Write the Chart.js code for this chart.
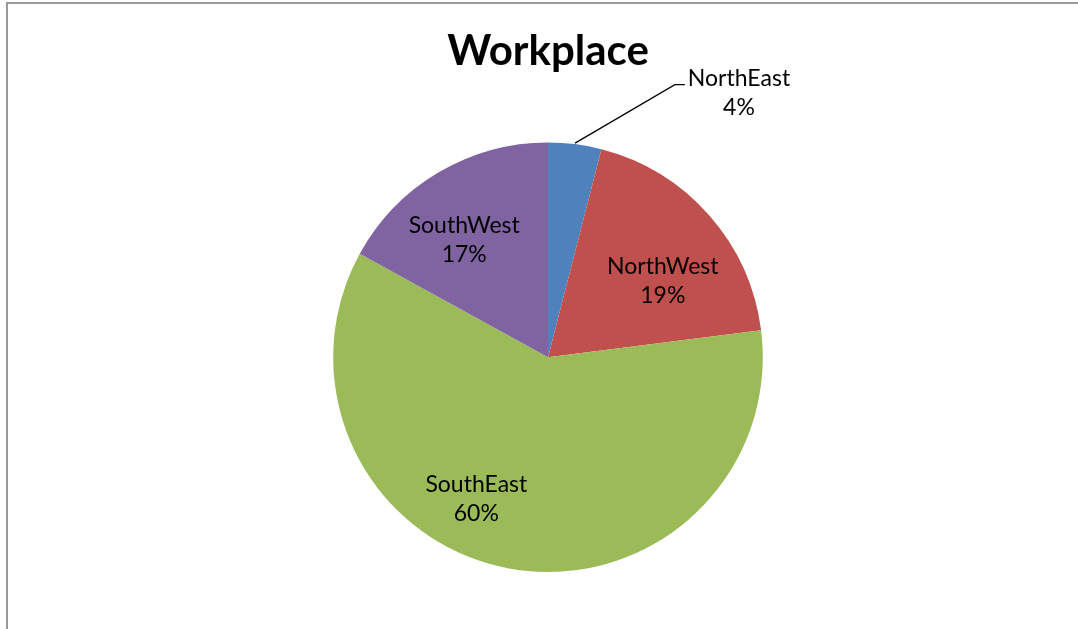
<!DOCTYPE html>
<html>
<head>
<meta charset="utf-8">
<title>Workplace</title>
<script src="https://cdn.jsdelivr.net/npm/chart.js@4.4.1/dist/chart.umd.min.js"></script>
<style>
    body { margin: 0; background: #fff; overflow: hidden; }
    #frame {
        position: absolute; left: 6px; top: 2px;
        width: 1100px; height: 700px;
        border-left: 2px solid #999; border-top: 2px solid #999;
    }
    #pie { position: absolute; left: 0; top: 0; }
</style>
</head>
<body>
<div id="frame"></div>
<canvas id="pie" width="1078" height="629"></canvas>
<script>
const regions = ['NorthEast', 'NorthWest', 'SouthEast', 'SouthWest'];
const shares = [4, 19, 60, 17];
const sliceColours = ['#4F81BD', '#C0504D', '#9BBB59', '#8064A2'];

const FONT = 'Lato, "Open Sans", sans-serif';

// Slice labels: name + percent. Inside labels sit along a nudged bisector,
// the small NorthEast slice gets an outside label with a leader line.
const sliceLabels = {
    id: 'sliceLabels',
    afterDatasetsDraw(chart, args, opts) {
        const ctx = chart.ctx;
        const arcs = chart.getDatasetMeta(0).data;
        const data = chart.data.datasets[0].data;
        const total = data.reduce((s, v) => s + v, 0);
        const lineGap = opts.lineGap;

        ctx.save();
        ctx.font = `${opts.size}px ${FONT}`;
        ctx.fillStyle = '#000';
        ctx.textAlign = 'center';
        ctx.textBaseline = 'middle';

        arcs.forEach((arc, i) => {
            const name = chart.data.labels[i];
            const pct = Math.round(data[i] * 100 / total) + '%';
            const mid = (arc.startAngle + arc.endAngle) / 2;
            const place = opts.inside[i];

            if (place) {
                const a = mid + place.turn * Math.PI / 180;
                const r = arc.outerRadius * place.r;
                const x = arc.x + Math.cos(a) * r;
                const y = arc.y + Math.sin(a) * r;
                ctx.fillText(name, x, y - lineGap / 2);
                ctx.fillText(pct, x, y + lineGap / 2);
                return;
            }

            // outside label with leader line
            const c = opts.callout;
            const tx = arc.x + c.dx;
            const ty = arc.y + c.dy;
            const w = ctx.measureText(name).width;
            const sx = arc.x + Math.cos(mid) * (arc.outerRadius + 1);
            const sy = arc.y + Math.sin(mid) * (arc.outerRadius + 1);
            const ex = tx - w / 2 - 3;
            const ey = ty - lineGap / 2 + 6;
            ctx.beginPath();
            ctx.moveTo(sx, sy);
            ctx.lineTo(ex - 10, ey);
            ctx.lineTo(ex, ey);
            ctx.strokeStyle = '#000';
            ctx.lineWidth = 1.3;
            ctx.stroke();
            ctx.fillText(name, tx, ty - lineGap / 2);
            ctx.fillText(pct, tx, ty + lineGap / 2);
        });
        ctx.restore();
    }
};

new Chart(document.getElementById('pie').getContext('2d'), {
    type: 'pie',
    data: {
        labels: regions,
        datasets: [{
            data: shares,
            backgroundColor: sliceColours,
            borderWidth: 0,
            hoverOffset: 0,
            offset: 0
        }]
    },
    options: {
        responsive: false,
        animation: false,
        events: [],
        layout: {
            padding: { top: 0, left: 333, right: 315, bottom: 57 }
        },
        plugins: {
            legend: { display: false },
            tooltip: { enabled: false },
            title: {
                display: true,
                text: 'Workplace',
                color: '#000',
                font: { family: FONT, size: 42, weight: 'bold' },
                padding: { top: 26, bottom: 66 }
            },
            sliceLabels: {
                size: 23,
                lineGap: 29,
                inside: [
                    null,
                    { turn: 8, r: 0.64 },
                    { turn: 16, r: 0.74 },
                    { turn: -5, r: 0.67 }
                ],
                callout: { dx: 191, dy: -264 }
            }
        }
    },
    plugins: [sliceLabels]
});
</script>
</body>
</html>
